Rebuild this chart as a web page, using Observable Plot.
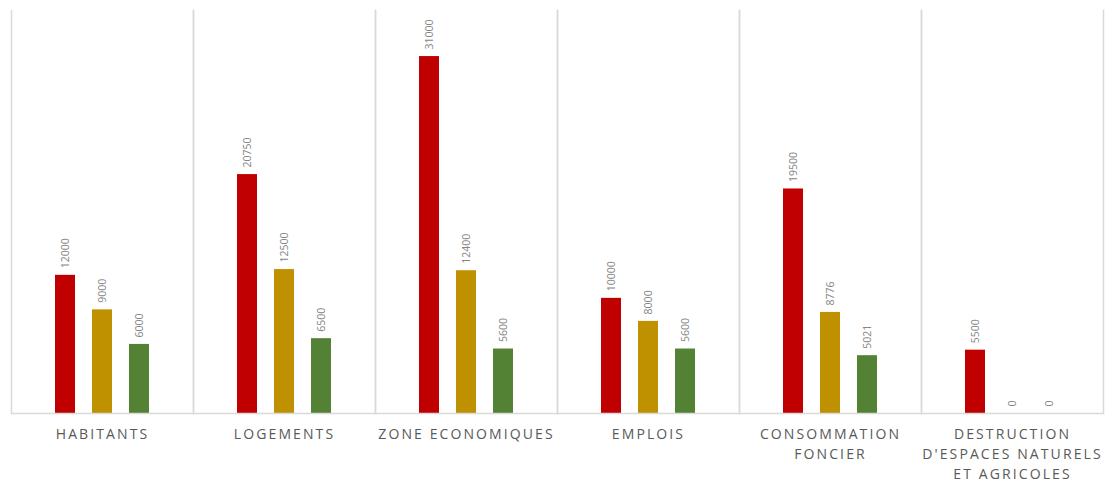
<!DOCTYPE html>
<html>
<head>
<meta charset="utf-8">
<script src="https://cdn.jsdelivr.net/npm/d3@7"></script>
<script src="https://cdn.jsdelivr.net/npm/@observablehq/plot@0.6"></script>
<style>
  html, body { margin: 0; padding: 0; background: #fff; }
  #chart g[aria-label="fx-axis tick label"] text { letter-spacing: 2.1px; }
</style>
</head>
<body>
<div id="chart"></div>
<script>
const categories = [
  "HABITANTS",
  "LOGEMENTS",
  "ZONE ECONOMIQUES",
  "EMPLOIS",
  "CONSOMMATION\nFONCIER",
  "DESTRUCTION\nD'ESPACES NATURELS\nET AGRICOLES"
];
const seriesNames = ["Série 1", "Série 2", "Série 3"];
const seriesColors = ["#c00000", "#bf9000", "#548235"];
const serie1 = [12000, 20750, 31000, 10000, 19500, 5500];
const serie2 = [9000, 12500, 12400, 8000, 8776, 0];
const serie3 = [6000, 6500, 5600, 5600, 5021, 0];

const allSeries = [serie1, serie2, serie3];
const data = [];
categories.forEach((c, i) => {
  allSeries.forEach((s, j) => {
    data.push({category: c, series: seriesNames[j], value: s[i]});
  });
});

const chart = Plot.plot({
  width: 1105,
  height: 483,
  marginLeft: 10,
  marginRight: 2,
  marginTop: 10,
  marginBottom: 70,
  style: {fontFamily: "'Open Sans', sans-serif", background: "#fff"},
  fx: {domain: categories, padding: 0, label: null},
  x: {domain: seriesNames, paddingInner: 0.467, paddingOuter: 1.164, axis: null},
  y: {domain: [0, 35000], axis: null},
  color: {domain: seriesNames, range: seriesColors},
  marks: [
    Plot.frame({anchor: "left", stroke: "#d9d9d9", strokeWidth: 1.5}),
    Plot.frame({anchor: "right", stroke: "#d9d9d9", strokeWidth: 1.5}),
    Plot.barY(data, {fx: "category", x: "series", y: "value", fill: "series"}),
    Plot.text(data, {
      fx: "category", x: "series", y: "value", text: d => String(d.value),
      rotate: -90, textAnchor: "start", dy: -7, fill: "#858585", fontSize: 10.5
    }),
    Plot.ruleY([0], {stroke: "#d9d9d9", strokeWidth: 1.5}),
    Plot.axisFx({anchor: "bottom", tickSize: 0, tickPadding: 12, fontSize: 14, fill: "#595959", label: null, lineHeight: 1.4})
  ]
});
document.getElementById("chart").appendChild(chart);
</script>
</body>
</html>
